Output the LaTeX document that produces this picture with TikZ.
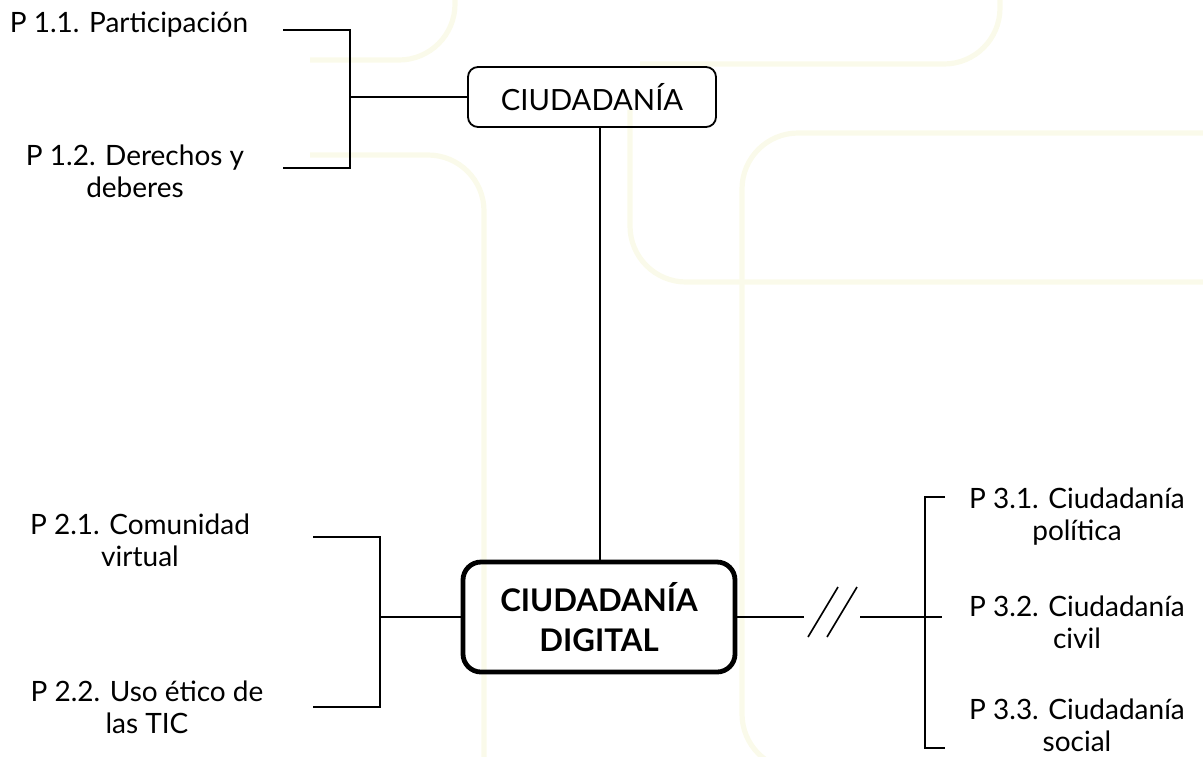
\documentclass[tikz,border=0pt]{standalone}
\usepackage{fontspec}
\setmainfont{Lato}
\definecolor{wmark}{RGB}{250,250,234}
\begin{document}
\begin{tikzpicture}[x=0.5pt,y=-0.5pt,
    item/.style={align=center,inner sep=0pt,font=\fontsize{14}{16}\selectfont},
    topbox/.style={draw,line width=0.9pt,rounded corners=5pt,minimum width=124pt,minimum height=30pt,inner sep=0pt,font=\fontsize{14.6}{16}\selectfont},
    mainbox/.style={draw,line width=2.4pt,rounded corners=9pt,minimum width=136pt,minimum height=55pt,inner sep=0pt,align=center,font=\bfseries\fontsize{15.6}{20}\selectfont},
    link/.style={line width=0.8pt},
    wm/.style={wmark,line width=2.6pt,rounded corners=28pt}]
    \useasboundingbox (0,0) rectangle (1203,756);

    % Draw the faint frames behind
    \draw[wm] (310,60) -- (455,60) -- (455,-60);
    \draw[wm] (640,64) -- (1000,64) -- (1000,-60);
    \draw[wm] (310,155) -- (484,155) -- (484,800);
    \draw[wm] (630,110) -- (630,282) -- (1260,282);
    \draw[wm] (1260,133) -- (742,133) -- (742,770) -- (1000,770);

    % Draw the two boxes
    \node[topbox] (ciud) at (592,97) {CIUDADAN\'IA};
    \node[mainbox] (dig) at (599,617) {CIUDADAN\'IA\\DIGITAL};

    % Draw the labels
    \node[item] (p11) at (129,25) {P 1.1. Participaci\'on};
    \node[item] (p12) at (135,171) {P 1.2. Derechos y\\deberes};
    \node[item] (p21) at (140,540) {P 2.1. Comunidad\\virtual};
    \node[item] (p22) at (147,707) {P 2.2. Uso \'etico de\\las TIC};
    \node[item] (p31) at (1077,517) {P 3.1. Ciudadan\'ia\\pol\'itica};
    \node[item] (p32) at (1077,622) {P 3.2. Ciudadan\'ia\\civil};
    \node[item] (p33) at (1077,725) {P 3.3. Ciudadan\'ia\\social};

    % Draw the brackets
    \coordinate (t11) at (283,30);
    \coordinate (t12) at (283,168);
    \coordinate (j1) at (350,97);
    \draw[link] (t11) -| (j1) |- (t12);
    \draw[link] (j1) -- (ciud.west);

    \coordinate (t21) at (313,537);
    \coordinate (t22) at (313,707);
    \coordinate (j2) at (380,617);
    \draw[link] (t21) -| (j2) |- (t22);
    \draw[link] (j2) -- (dig.west);

    \coordinate (vx) at (600,0);
    \draw[link] (ciud.south -| vx) -- (dig.north -| vx);

    \coordinate (cut1) at (804,617);
    \coordinate (cut2) at (860,617);
    \coordinate (s1) at (808,637);
    \coordinate (s2) at (827,637);
    \draw[link] (dig.east) -- (cut1);
    \draw[link] (s1) -- ++(30,-50);
    \draw[link] (s2) -- ++(30,-50);

    \coordinate (t31) at (945,497);
    \coordinate (t32) at (942,617);
    \coordinate (t33) at (945,748);
    \coordinate (j3) at (925,617);
    \draw[link] (t31) -| (j3) |- (t33);
    \draw[link] (cut2) -- (t32);
\end{tikzpicture}
\end{document}
